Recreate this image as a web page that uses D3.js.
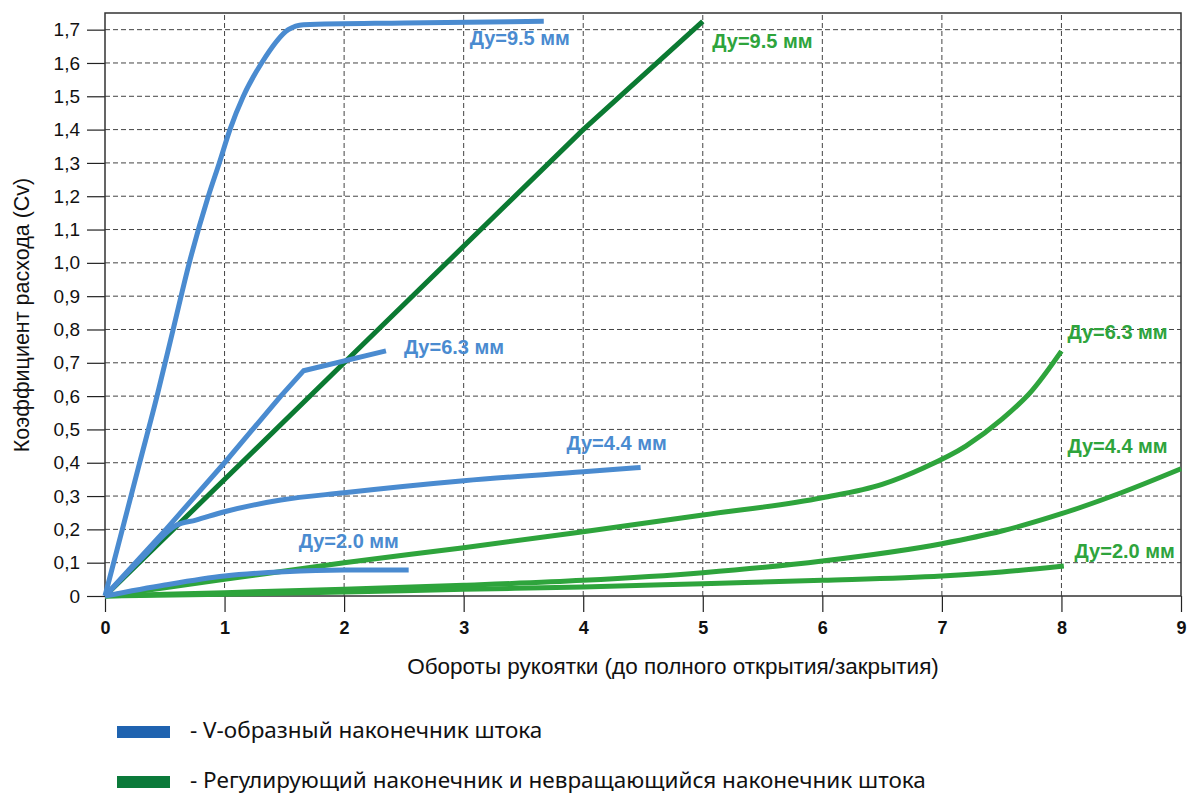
<!DOCTYPE html>
<html>
<head>
<meta charset="utf-8">
<script src="https://cdn.jsdelivr.net/npm/d3@7"></script>
<style>
  body { margin: 0; background: #fff; }
  svg { display: block; }
</style>
</head>
<body>
<div id="chart"></div>
<script>
// turns of the handle vs flow coefficient
var xTicks = [0, 1, 2, 3, 4, 5, 6, 7, 8, 9];
var yTicks = [0, 0.1, 0.2, 0.3, 0.4, 0.5, 0.6, 0.7, 0.8, 0.9, 1.0, 1.1, 1.2, 1.3, 1.4, 1.5, 1.6, 1.7];
var yTickLabels = ["0", "0,1", "0,2", "0,3", "0,4", "0,5", "0,6", "0,7", "0,8", "0,9", "1,0",
                   "1,1", "1,2", "1,3", "1,4", "1,5", "1,6", "1,7"];

// V-shaped stem tip (blue)
var blue95 = [[0, 0], [0.29, 0.4], [0.435, 0.6], [0.57, 0.8], [0.705, 1.0], [0.864, 1.2], [0.956, 1.3],
              [1.045, 1.4], [1.157, 1.5], [1.31, 1.6], [1.533, 1.7], [1.66, 1.715], [2.5, 1.72], [3.67, 1.725]];
var blue63 = [[0, 0], [0.51, 0.2], [1.0, 0.4], [1.47, 0.6], [1.66, 0.676], [2.35, 0.736]];
var blue44 = [[0, 0], [0.32, 0.118], [0.6, 0.213], [0.76, 0.228], [1.0, 0.253], [1.47, 0.288],
              [2.0, 0.31], [3.0, 0.346], [4.0, 0.373], [4.48, 0.386]];
var blue20 = [[0, 0], [0.5, 0.033], [1.0, 0.06], [1.5, 0.073], [2.0, 0.078], [2.54, 0.078]];

// regulating / non-rotating stem tip (green)
var green95 = [[0, 0], [2, 0.7], [4, 1.4], [5, 1.725]];
var green63 = [[0, 0], [1, 0.05], [2, 0.1], [3, 0.145], [4, 0.193], [5, 0.243], [6, 0.295], [6.5, 0.335],
               [6.85, 0.385], [7.2, 0.45], [7.5, 0.53], [7.75, 0.615], [8.0, 0.735]];
var green44 = [[0, 0], [1, 0.01], [2, 0.02], [3, 0.032], [4, 0.047], [5, 0.07], [6, 0.105], [7, 0.157],
               [7.5, 0.195], [8, 0.247], [8.5, 0.31], [9, 0.382]];
var green20 = [[0, 0], [1, 0.005], [2, 0.012], [3, 0.02], [4, 0.027], [5, 0.037], [6, 0.047], [7, 0.06],
               [7.5, 0.072], [8.02, 0.09]];

var seriesLabel = "Ду=";
var legendLabels = ["- V-образный наконечник штока",
                    "- Регулирующий наконечник и невращающийся наконечник штока"];

var width = 1187, height = 794;
var margin = {left: 105, right: 6, top: 13, bottom: 198};

var blue = "#4a8bd0", darkGreen = "#0b7a32", lightGreen = "#2ea43c";

var svg = d3.select("#chart").append("svg")
  .attr("width", width)
  .attr("height", height);

var x = d3.scaleLinear().domain([0, 9]).range([margin.left, width - margin.right]);
var y = d3.scaleLinear().domain([0, 1.75]).range([height - margin.bottom, margin.top]);

// grid
var grid = svg.append("g").attr("stroke", "#444").attr("stroke-width", 1).attr("stroke-dasharray", "5,3");
grid.selectAll("line.gx").data(xTicks.slice(1, -1)).enter().append("line")
  .attr("x1", function (d) { return x(d); }).attr("x2", function (d) { return x(d); })
  .attr("y1", y(0)).attr("y2", y(1.75));
grid.selectAll("line.gy").data(yTicks.slice(1)).enter().append("line")
  .attr("x1", x(0)).attr("x2", x(9))
  .attr("y1", function (d) { return y(d); }).attr("y2", function (d) { return y(d); });

// axes
var xAxis = d3.axisBottom(x).tickValues(xTicks).tickSize(16).tickSizeOuter(0).tickFormat(d3.format("d"));
var gx = svg.append("g").attr("transform", "translate(0," + y(0) + ")").call(xAxis);
gx.select(".domain").remove();
gx.selectAll("line").attr("stroke", "#222").attr("stroke-width", 1.2);
gx.selectAll("text").attr("font-family", "Liberation Sans, Arial, sans-serif")
  .attr("font-size", 18).attr("font-weight", "bold").attr("fill", "#111").attr("dy", "1.05em");

var yAxis = d3.axisLeft(y).tickValues(yTicks).tickSize(18).tickSizeOuter(0)
  .tickFormat(function (d, i) { return yTickLabels[i]; });
var gy = svg.append("g").attr("transform", "translate(" + x(0) + ",0)").call(yAxis);
gy.select(".domain").remove();
gy.selectAll("line").attr("stroke", "#222").attr("stroke-width", 1.2);
gy.selectAll("text").attr("font-family", "Liberation Sans, Arial, sans-serif")
  .attr("font-size", 19).attr("fill", "#111").attr("x", -25);

// frame
svg.append("rect")
  .attr("x", x(0)).attr("y", y(1.75))
  .attr("width", x(9) - x(0)).attr("height", y(0) - y(1.75))
  .attr("fill", "none").attr("stroke", "#333").attr("stroke-width", 1.5);

// curves
var smooth = d3.line()
  .x(function (d) { return x(d[0]); })
  .y(function (d) { return y(d[1]); })
  .curve(d3.curveMonotoneX);
var straight = d3.line()
  .x(function (d) { return x(d[0]); })
  .y(function (d) { return y(d[1]); });

var curves = [
  {data: green63, color: lightGreen, gen: smooth},
  {data: green44, color: lightGreen, gen: smooth},
  {data: green20, color: lightGreen, gen: smooth},
  {data: green95, color: darkGreen, gen: straight},
  {data: blue95, color: blue, gen: smooth},
  {data: blue44, color: blue, gen: smooth},
  {data: blue20, color: blue, gen: smooth},
  {data: blue63, color: blue, gen: straight}
];
svg.append("g").selectAll("path").data(curves).enter().append("path")
  .attr("d", function (d) { return d.gen(d.data); })
  .attr("fill", "none")
  .attr("stroke", function (d) { return d.color; })
  .attr("stroke-width", 5)
  .attr("stroke-linejoin", "round");

// curve labels: [size, turns, cv, colour]
var labels = [
  ["9.5", 3.05, 1.655, blue],
  ["6.3", 2.50, 0.725, blue],
  ["4.4", 3.86, 0.438, blue],
  ["2.0", 1.62, 0.143, blue],
  ["9.5", 5.08, 1.645, lightGreen],
  ["6.3", 8.05, 0.77, lightGreen],
  ["4.4", 8.05, 0.43, lightGreen],
  ["2.0", 8.11, 0.115, lightGreen]
];
svg.append("g").selectAll("text").data(labels).enter().append("text")
  .attr("x", function (d) { return x(d[1]); })
  .attr("y", function (d) { return y(d[2]); })
  .attr("font-family", "Liberation Sans, Arial, sans-serif")
  .attr("font-size", 20).attr("font-weight", "bold")
  .attr("fill", function (d) { return d[3]; })
  .text(function (d) { return seriesLabel + d[0] + " мм"; });

// axis titles
svg.append("text")
  .attr("x", 673).attr("y", 674)
  .attr("text-anchor", "middle")
  .attr("font-family", "Liberation Sans, Arial, sans-serif").attr("font-size", 22.5).attr("fill", "#111")
  .text("Обороты рукоятки (до полного открытия/закрытия)");

svg.append("text")
  .attr("transform", "translate(29,315) rotate(-90)")
  .attr("text-anchor", "middle")
  .attr("font-family", "Liberation Sans, Arial, sans-serif").attr("font-size", 21.5).attr("fill", "#111")
  .text("Коэффициент расхода (Cv)");

// legend
var legendColors = ["#1f63b0", "#0b7a3a"];
var legend = svg.append("g").selectAll("g").data(legendLabels).enter().append("g")
  .attr("transform", function (d, i) { return "translate(117," + (726 + i * 50) + ")"; });
legend.append("rect")
  .attr("width", 53).attr("height", 12)
  .attr("fill", function (d, i) { return legendColors[i]; });
legend.append("text")
  .attr("x", 73).attr("y", 12)
  .attr("font-family", "Noto Sans, sans-serif").attr("font-size", 22.5).attr("fill", "#111")
  .text(function (d) { return d; });
</script>
</body>
</html>
